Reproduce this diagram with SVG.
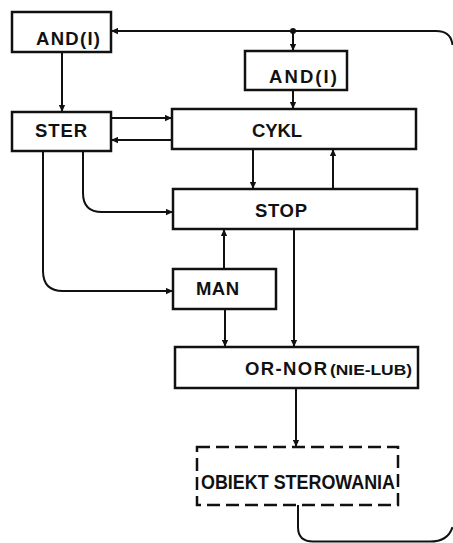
<svg xmlns="http://www.w3.org/2000/svg" width="453" height="543" viewBox="0 0 453 543">
<style>
.box{fill:#fff;stroke:#111;stroke-width:2.5}
.dash{fill:none;stroke:#111;stroke-width:2.5;stroke-dasharray:13,6}
.ln{fill:none;stroke:#111;stroke-width:2}
.t{font-family:"Liberation Sans","DejaVu Sans",Arial,sans-serif;font-weight:bold;font-size:18.5px;fill:#111}
.s{font-size:15px}
.b{font-size:20px}
</style>
<defs>
<marker id="ah" viewBox="0 0 10 10" refX="10" refY="5" markerWidth="8" markerHeight="7" markerUnits="userSpaceOnUse" orient="auto">
<path d="M0,0.5 L10,5 L0,9.5 z" fill="#111"/>
</marker>
</defs>
<rect width="453" height="543" fill="#fff"/>
<g id="connectors">
<path class="ln" d="M298,505 V527 Q298,541.5 313,541.5 H430 Q448,541.5 452.5,527"/>
<path class="ln" marker-end="url(#ah)" d="M452.5,45 Q451,31 436,31 H111"/>
<circle cx="293" cy="31" r="3" fill="#111"/>
<path class="ln" marker-end="url(#ah)" d="M293,31 V51"/>
<path class="ln" marker-end="url(#ah)" d="M62,52 V112"/>
<path class="ln" marker-end="url(#ah)" d="M293,90 V109"/>
<path class="ln" marker-end="url(#ah)" d="M111,118 H172"/>
<path class="ln" marker-end="url(#ah)" d="M172,140 H111"/>
<path class="ln" marker-end="url(#ah)" d="M253,149 V189"/>
<path class="ln" marker-end="url(#ah)" d="M333,189 V149"/>
<path class="ln" marker-end="url(#ah)" d="M83,151 V193 Q83,212 102,212 H173"/>
<path class="ln" marker-end="url(#ah)" d="M43,151 V271 Q43,291 63,291 H173"/>
<path class="ln" marker-end="url(#ah)" d="M224,269 V229"/>
<path class="ln" marker-end="url(#ah)" d="M225,309 V347"/>
<path class="ln" marker-end="url(#ah)" d="M294,229 V347"/>
<path class="ln" marker-end="url(#ah)" d="M296,388 V447"/>
</g>
<g id="and1"><rect class="box" x="12" y="12" width="99" height="40"/><text class="t" x="36" y="45" textLength="64">AND(I)</text></g>
<g id="and2"><rect class="box" x="245" y="51" width="102" height="39"/><text class="t" x="269" y="83" textLength="68">AND(I)</text></g>
<g id="ster"><rect class="box" x="12" y="112" width="99" height="39"/><text class="t" x="35" y="137" textLength="52">STER</text></g>
<g id="cykl"><rect class="box" x="172" y="109" width="244" height="40"/><text class="t" x="252" y="137" textLength="50">CYKL</text></g>
<g id="stop"><rect class="box" x="173" y="189" width="244" height="40"/><text class="t" x="255" y="217" textLength="52">STOP</text></g>
<g id="man"><rect class="box" x="173" y="269" width="103" height="40"/><text class="t" x="196" y="295" textLength="43">MAN</text></g>
<g id="ornor"><rect class="box" x="175" y="347" width="243" height="41"/><text class="t" x="245" y="375"><tspan textLength="82">OR-NOR</tspan><tspan class="s" x="330" textLength="82" lengthAdjust="spacingAndGlyphs">(NIE-LUB)</tspan></text></g>
<g id="obiekt"><rect class="dash" x="197" y="447" width="201" height="58"/><text class="t b" x="201" y="489" textLength="194" lengthAdjust="spacingAndGlyphs">OBIEKT STEROWANIA</text></g>
</svg>
